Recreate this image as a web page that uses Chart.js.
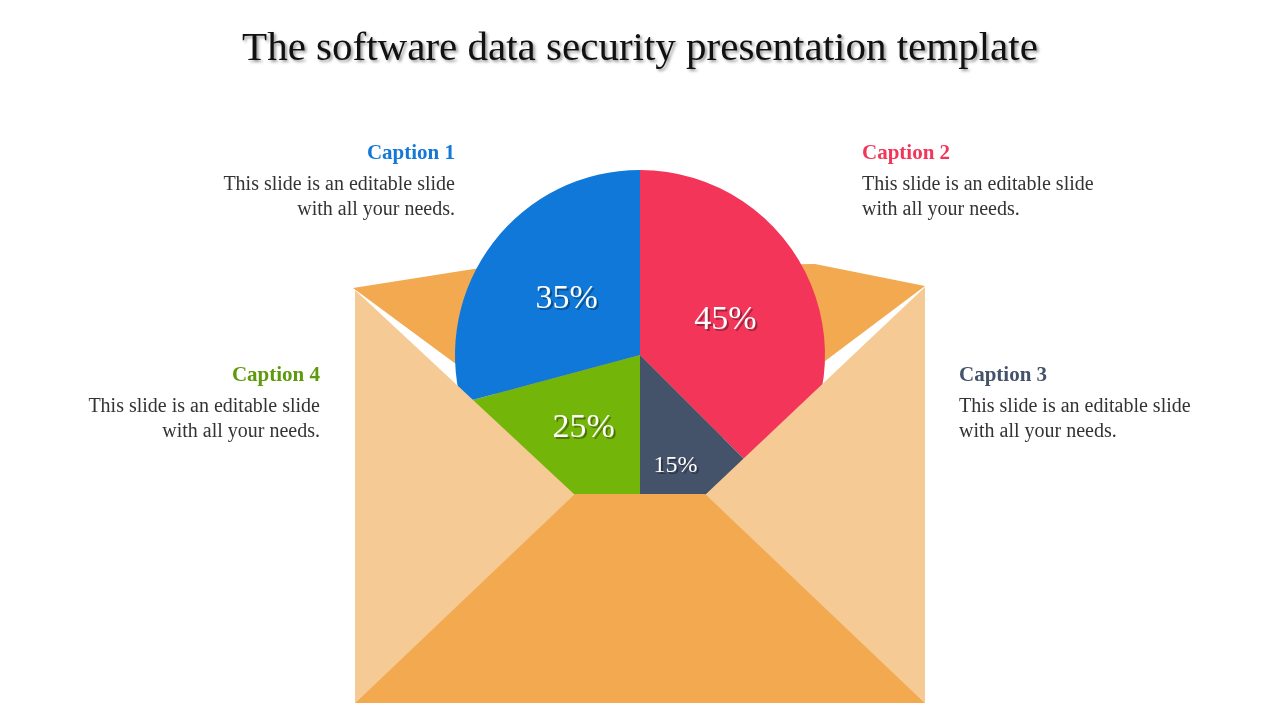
<!DOCTYPE html>
<html><head><meta charset="utf-8">
<script src="https://cdn.jsdelivr.net/npm/chart.js@4"></script>
<style>
body{margin:0;width:1280px;height:720px;background:#fff;position:relative;overflow:hidden;font-family:"Liberation Serif","DejaVu Serif",serif;}
#c{position:absolute;left:0;top:0;}
h1{position:absolute;top:22px;left:0;width:1280px;text-align:center;margin:0;font-weight:normal;font-size:41px;color:#111;text-shadow:2px 2px 3px #999;}
.cap{position:absolute;font-size:20px;line-height:25px;color:#333;}
.cap b{display:block;font-size:21px;margin-bottom:6px;}
</style></head><body>
<canvas id="c" width="1280" height="720"></canvas>
<h1>The software data security presentation template</h1>
<div class="cap" style="right:825px;top:140px;text-align:right"><b style="color:#1479D6">Caption 1</b>This slide is an editable slide<br>with all your needs.</div>
<div class="cap" style="left:862px;top:140px"><b style="color:#F2365A">Caption 2</b>This slide is an editable slide<br>with all your needs.</div>
<div class="cap" style="left:959px;top:362px"><b style="color:#44536A">Caption 3</b>This slide is an editable slide<br>with all your needs.</div>
<div class="cap" style="right:960px;top:362px;text-align:right"><b style="color:#5E9A0C">Caption 4</b>This slide is an editable slide<br>with all your needs.</div>
<script>
const categories=["Caption 2","Caption 3","Caption 4","Caption 1"];
const values=[45,15,25,35];
const labels=["45%","15%","25%","35%"];
const colors=["#F3355A","#44536A","#74B50A","#0F78D8"];
function poly(ctx,pts,col){ctx.beginPath();ctx.moveTo(pts[0][0],pts[0][1]);for(const p of pts.slice(1))ctx.lineTo(p[0],p[1]);ctx.closePath();ctx.fillStyle=col;ctx.fill();}
const env={id:'env',
beforeDatasetsDraw(ch){const c=ch.ctx;c.save();poly(c,[[353,288],[480,268],[815,264],[925,286],[640,500]],"#F2A950");c.restore();},
afterDatasetsDraw(ch){const c=ch.ctx;c.save();
poly(c,[[355,290],[575,495],[355,703]],"#F6CA95");
poly(c,[[925,287],[705,495],[925,703]],"#F6CA95");
poly(c,[[355,703],[575,494],[705,494],[925,703]],"#F2A950");
const arcs=ch.getDatasetMeta(0).data;
arcs.forEach((a,i)=>{const p=a.tooltipPosition();let x=p.x,y=p.y,fs=i==1?24:34;
if(i==1){y=Math.min(y+25,470);}
c.font=fs+"px 'Liberation Serif',serif";c.textAlign="center";c.textBaseline="middle";
c.fillStyle="rgba(0,0,0,0.35)";c.fillText(labels[i],x+2,y+2);c.fillStyle="#fff";c.fillText(labels[i],x,y);});
c.restore();}};
new Chart(document.getElementById('c'),{type:'pie',
data:{labels:categories,datasets:[{data:values,backgroundColor:colors,borderWidth:0}]},
options:{responsive:false,animation:false,layout:{padding:{left:455,right:455,top:170,bottom:180}},
plugins:{legend:{display:false},tooltip:{enabled:false}}},plugins:[env]});
</script></body></html>
